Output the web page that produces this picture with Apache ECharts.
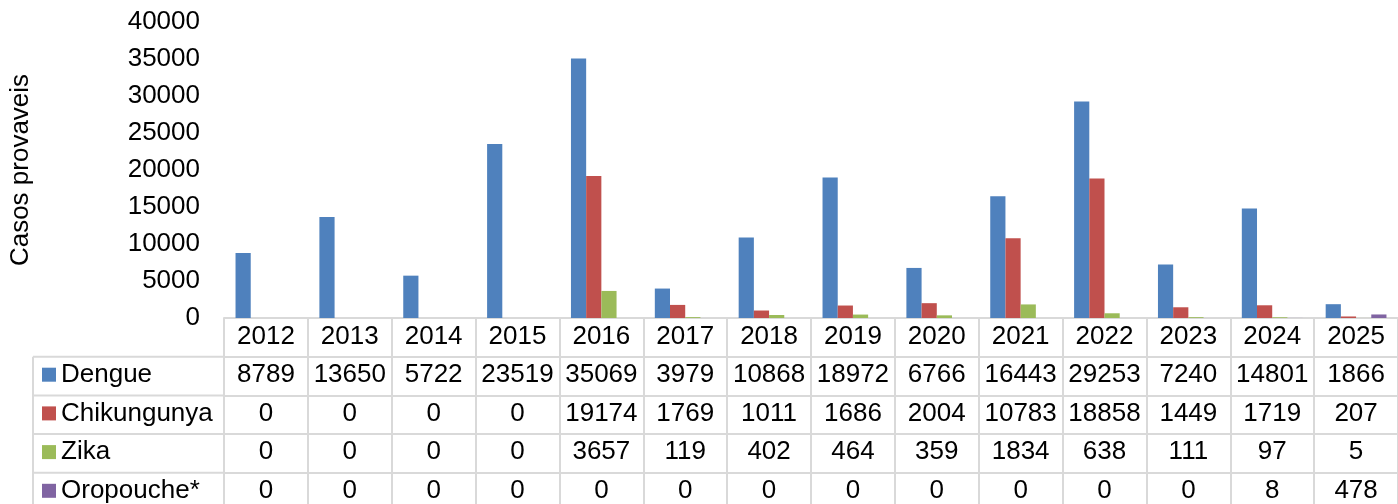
<!DOCTYPE html>
<html><head><meta charset="utf-8">
<script src="https://cdn.jsdelivr.net/npm/echarts@6/dist/echarts.min.js"></script>
<style>html,body{margin:0;padding:0;background:#fff}#c{width:1398px;height:504px}</style>
</head><body><div id="c"></div>
<script>
const years = ['2012','2013','2014','2015','2016','2017','2018','2019','2020','2021','2022','2023','2024','2025'];
const dengue = [8789,13650,5722,23519,35069,3979,10868,18972,6766,16443,29253,7240,14801,1866];
const chikungunya = [0,0,0,0,19174,1769,1011,1686,2004,10783,18858,1449,1719,207];
const zika = [0,0,0,0,3657,119,402,464,359,1834,638,111,97,5];
const oropouche = [0,0,0,0,0,0,0,0,0,0,0,0,8,478];
const seriesNames = ['Dengue','Chikungunya','Zika','Oropouche*'];
const seriesColors = ['#4F81BD','#C0504D','#9BBB59','#8064A2'];
const seriesData = [dengue, chikungunya, zika, oropouche];

const FONT = "'Liberation Sans', Arial, sans-serif";
const FS = 26;
const ROW = 38.7;
const AXIS_Y = 318;
const LINE = '#d9d9d9';

const chart = echarts.init(document.getElementById('c'), null, {renderer:'canvas'});

const xAxes = [{
  type:'category', data: years, gridIndex:0, position:'bottom',
  axisLine:{show:true, lineStyle:{color:LINE, width:2}},
  axisTick:{show:true, length:200, interval:0, lineStyle:{color:LINE, width:2}},
  axisLabel:{interval:0, margin:6, fontSize:FS, lineHeight:FS, color:'#000', fontFamily:FONT}
}];
seriesData.forEach((arr, k) => {
  xAxes.push({
    type:'category', data: years, gridIndex:0, position:'bottom', offset: ROW*(k+1),
    axisLine:{show:true, lineStyle:{color:LINE, width:2}},
    axisTick:{show:false},
    axisLabel:{interval:0, margin:5, fontSize:FS, lineHeight:FS, color:'#000', fontFamily:FONT,
      formatter:(v, i) => String(arr[i])}
  });
});

const graphics = [];
graphics.push({type:'line', shape:{x1:33, y1:AXIS_Y+ROW, x2:33, y2:504}, style:{stroke:LINE, lineWidth:2}});
for (let k = 1; k <= 4; k++) {
  const y = AXIS_Y + ROW*k;
  graphics.push({type:'line', shape:{x1:33, y1:y, x2:224, y2:y}, style:{stroke:LINE, lineWidth:2}});
}

chart.setOption({
  animation:false,
  textStyle:{fontFamily:FONT},
  grid:{left:224, right:-8, top:22, bottom:504-AXIS_Y, containLabel:false},
  xAxis: xAxes,
  yAxis:{type:'value', min:0, max:40000, interval:5000,
    name:'Casos provaveis', nameLocation:'middle', nameGap:190, nameRotate:90,
    nameTextStyle:{fontSize:FS, color:'#000', fontFamily:FONT},
    axisLine:{show:false}, axisTick:{show:false}, splitLine:{show:false},
    axisLabel:{margin:24, fontSize:FS, color:'#000', fontFamily:FONT, formatter:(v) => String(v)}},
  legend:{orient:'vertical', left:42, top:AXIS_Y+ROW+5, padding:0, itemGap:ROW-FS,
    icon:'rect', itemWidth:14, itemHeight:14, itemStyle:{borderWidth:0},
    textStyle:{fontSize:FS, lineHeight:FS, color:'#000', fontFamily:FONT},
    data: seriesNames, selectedMode:false},
  series: seriesData.map((arr, k) => ({
    type:'bar', name: seriesNames[k], data: arr, xAxisIndex:0,
    barGap:'0%', barCategoryGap:'27.5%',
    itemStyle:{color: seriesColors[k]}
  })),
  graphic: graphics
});
</script></body></html>
